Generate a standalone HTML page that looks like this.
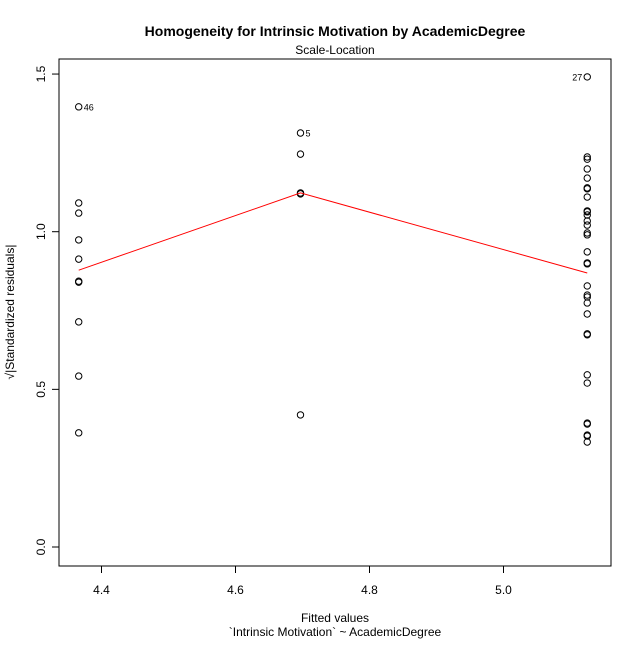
<!DOCTYPE html>
<html><head><meta charset="utf-8"><style>
html,body{margin:0;padding:0;background:#fff}
svg text{font-family:"Liberation Sans",Arial,sans-serif;fill:#000}
</style></head><body>
<svg id="chart" width="640" height="640" viewBox="0 0 640 640" xmlns="http://www.w3.org/2000/svg">
<text x="335" y="36" font-size="14" font-weight="bold" text-anchor="middle">Homogeneity for Intrinsic Motivation by AcademicDegree</text>
<text x="335" y="54" font-size="12" text-anchor="middle">Scale-Location</text>
<rect x="59" y="59" width="552" height="507" fill="none" stroke="#000" stroke-width="1"/>
<g id="xaxis"></g>
<g id="yaxis"></g>
<text x="335" y="622" font-size="12" text-anchor="middle">Fitted values</text>
<text x="335" y="636" font-size="12" text-anchor="middle">`Intrinsic Motivation` ~ AcademicDegree</text>
<text transform="translate(14,312) rotate(-90)" font-size="12" text-anchor="middle">√|Standardized residuals|</text>
<g id="marks"></g>
</svg>
<script>
const groupFitted = [4.366, 4.697, 5.125];
const groupValues = [
  [1.396, 1.091, 1.059, 0.974, 0.913, 0.840, 0.843, 0.714, 0.542, 0.362],
  [1.313, 1.246, 1.123, 1.120, 0.419],
  [1.491, 1.237, 1.230, 1.199, 1.170, 1.139, 1.136, 1.110, 1.066, 1.063, 1.053, 1.034, 1.021, 0.996, 0.990, 0.936, 0.901, 0.898, 0.828, 0.799, 0.793, 0.774, 0.739, 0.676, 0.673, 0.546, 0.520, 0.393, 0.390, 0.355, 0.352, 0.333]
];
const smoothValues = [0.878, 1.123, 0.869];
const labelNames = ["46", "5", "27"];
const labelValues = [1.396, 1.313, 1.491];
const xTicks = [4.4, 4.6, 4.8, 5.0];
const xTickLabels = ["4.4", "4.6", "4.8", "5.0"];
const yTicks = [0.0, 0.5, 1.0, 1.5];
const yTickLabels = ["0.0", "0.5", "1.0", "1.5"];

const NS = "http://www.w3.org/2000/svg";
function sx(v){ return 101.5 + (v - 4.4) * 670; }
function sy(v){ return 547 - v * 315.3; }
function mk(tag, attrs, parent){
  const e = document.createElementNS(NS, tag);
  for (const k in attrs) e.setAttribute(k, attrs[k]);
  parent.appendChild(e);
  return e;
}
const xa = document.getElementById('xaxis');
const ya = document.getElementById('yaxis');
const marks = document.getElementById('marks');

const xl = mk('line', {x1: sx(xTicks[0]), x2: sx(xTicks[xTicks.length-1]), y1: 566, y2: 566, stroke: '#000'}, xa);


xTicks.forEach((t, i) => {
  const tk = mk('line', {x1: sx(t), x2: sx(t), y1: 566, y2: 573, stroke: '#000'}, xa);
  
  
  const tx = mk('text', {x: sx(t), y: 594, 'font-size': 12, 'text-anchor': 'middle'}, xa);
  tx.textContent = xTickLabels[i];
  
  
});

const yl = mk('line', {x1: 59, x2: 59, y1: sy(yTicks[0]), y2: sy(yTicks[yTicks.length-1]), stroke: '#000'}, ya);


yTicks.forEach((t, i) => {
  const tk = mk('line', {x1: 52, x2: 59, y1: sy(t), y2: sy(t), stroke: '#000'}, ya);
  
  
  const tx = mk('text', {transform: 'translate(45,' + sy(t) + ') rotate(-90)', 'font-size': 12, 'text-anchor': 'middle'}, ya);
  tx.textContent = yTickLabels[i];
  
  
});

groupValues.forEach((vals, g) => {
  vals.forEach(v => {
    const c = mk('circle', {cx: sx(groupFitted[g]), cy: sy(v), r: 3.2, fill: 'none', stroke: '#000', 'stroke-width': 1}, marks);
    
    
  });
});

const pl = mk('polyline', {points: groupFitted.map((f, i) => sx(f) + ',' + sy(smoothValues[i])).join(' '), fill: 'none', stroke: '#ff0000', 'stroke-width': 1}, marks);



labelNames.forEach((n, i) => {
  const right = i === 2;
  const t = mk('text', {x: sx(groupFitted[i]) + (right ? -5 : 5), y: sy(labelValues[i]) + 3.5, 'font-size': 9, 'text-anchor': right ? 'end' : 'start'}, marks);
  t.textContent = n;
  
  
});
</script>
</body></html>
